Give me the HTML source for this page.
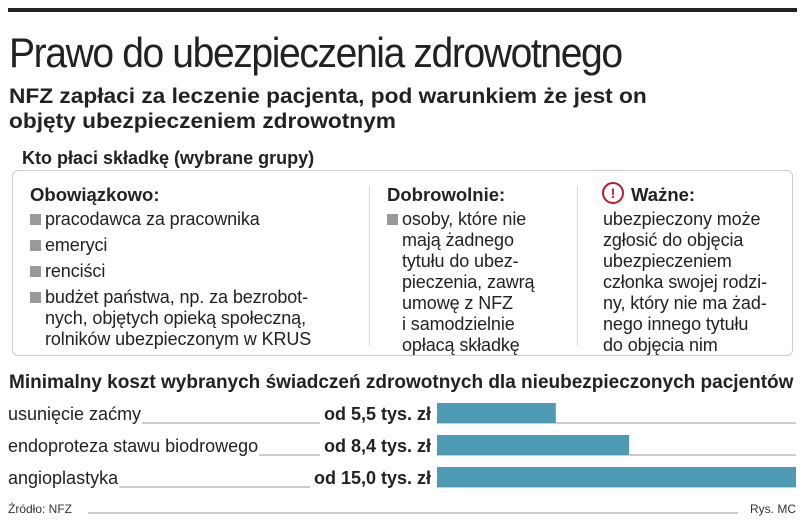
<!DOCTYPE html>
<html><head><meta charset="utf-8">
<style>
*{margin:0;padding:0;box-sizing:border-box}
body{width:805px;height:525px;background:#fff;position:relative;overflow:hidden;font-family:"Liberation Sans",sans-serif;color:#222}
.a{position:absolute;white-space:nowrap}
.n{font-family:"Liberation Sans Narrow","Liberation Sans",sans-serif}
.li{position:absolute;font-size:18px;line-height:21px;white-space:nowrap;letter-spacing:-0.1px}
.sq{display:inline-block;width:11px;height:11px;background:#999;margin-right:4px;vertical-align:0px}
.h{font-size:18.5px;font-weight:bold}
</style></head><body>
<div class="a" style="left:8px;top:8px;width:789px;height:4px;background:#222"></div>
<div class="a n" style="left:9px;top:29px;font-size:42px;letter-spacing:-1.5px;transform:scaleX(0.93);transform-origin:left">Prawo do ubezpieczenia zdrowotnego</div>
<div class="a n" style="left:9px;top:84px;font-size:21px;font-weight:bold;line-height:25px;transform:scaleX(1.08);transform-origin:left">NFZ zapłaci za leczenie pacjenta, pod warunkiem że jest on<br>objęty ubezpieczeniem zdrowotnym</div>
<div class="a" style="left:12px;top:170px;width:781px;height:186px;border:1.5px solid #ccc;border-radius:6px"></div>
<div class="a" style="left:18px;top:148px;font-size:18px;font-weight:bold;background:#fff;padding:0 4px">Kto płaci składkę (wybrane grupy)</div>
<div class="a" style="left:369px;top:186px;width:1px;height:160px;background:#ddd"></div>
<div class="a" style="left:577px;top:186px;width:1px;height:160px;background:#ddd"></div>
<div class="a h" style="left:30px;top:184px">Obowiązkowo:</div>
<div class="li" style="left:30px;top:209px"><span class="sq"></span>pracodawca za pracownika</div>
<div class="li" style="left:30px;top:235px"><span class="sq"></span>emeryci</div>
<div class="li" style="left:30px;top:261px"><span class="sq"></span>renciści</div>
<div class="li" style="left:30px;top:287px"><span class="sq"></span>budżet państwa, np. za bezrobot-<br><span style="padding-left:15px">nych, objętych opieką społeczną,</span><br><span style="padding-left:15px">rolników ubezpieczonym w KRUS</span></div>
<div class="a h" style="left:387px;top:184px">Dobrowolnie:</div>
<div class="li" style="left:387px;top:209px"><span class="sq"></span>osoby, które nie<br><span style="padding-left:15px">mają żadnego</span><br><span style="padding-left:15px">tytułu do ubez-</span><br><span style="padding-left:15px">pieczenia, zawrą</span><br><span style="padding-left:15px">umowę z NFZ</span><br><span style="padding-left:15px">i samodzielnie</span><br><span style="padding-left:15px">opłacą składkę</span></div>
<div class="a" style="left:602px;top:182px;width:22px;height:22px;border:2px solid #c0152f;border-radius:50%;color:#c0152f;font-size:14px;font-weight:bold;text-align:center;line-height:18px">!</div>
<div class="a h" style="left:631px;top:184px">Ważne:</div>
<div class="li" style="left:603px;top:209px">ubezpieczony może<br>zgłosić do objęcia<br>ubezpieczeniem<br>członka swojej rodzi-<br>ny, który nie ma żad-<br>nego innego tytułu<br>do objęcia nim</div>
<div class="a n" style="left:9px;top:372px;font-size:19px;font-weight:bold">Minimalny koszt wybranych świadczeń zdrowotnych dla nieubezpieczonych pacjentów</div>
<svg id="chart" class="a" style="left:0;top:395px" width="805" height="130"></svg>
<script>
const categories=["usunięcie zaćmy","endoproteza stawu biodrowego","angioplastyka"];
const values=[5.5,8.4,15.0];
const valueLabels=["od 5,5 tys. zł","od 8,4 tys. zł","od 15,0 tys. zł"];
const svg=document.getElementById('chart');
const NS='http://www.w3.org/2000/svg';
const x0=437,x1=796,vmin=0.8,vmax=15;
const xs=v=>x0+(x1-x0)*(v-vmin)/(vmax-vmin);
const rowY=i=>8+i*32;
function mk(t,a){const e=document.createElementNS(NS,t);for(const k in a)e.setAttribute(k,a[k]);svg.appendChild(e);return e;}
categories.forEach((c,i)=>{
 const y=rowY(i);
 const ln=mk('line',{x1:8,x2:796,y1:y+20,y2:y+20,stroke:'#999','stroke-width':1});
 
 
 const lbg=mk('rect',{x:8,y:y,width:0,height:22,fill:'#fff'});
 const t=mk('text',{x:8,y:y+17,'font-size':18,'font-family':'"Liberation Sans Narrow","Liberation Sans",sans-serif',fill:'#222'});
 t.textContent=c;
 
 
 const w=t.getComputedTextLength();lbg.setAttribute('width',w+1);
 const vbg=mk('rect',{x:0,y:y,width:0,height:22,fill:'#fff'});
 const v=mk('text',{x:x0-6,y:y+17,'font-size':18,'font-weight':'bold','text-anchor':'end','font-family':'"Liberation Sans Narrow","Liberation Sans",sans-serif',fill:'#222'});
 v.textContent=valueLabels[i];
 
 
 const vw=v.getComputedTextLength();vbg.setAttribute('x',x0-10-vw);vbg.setAttribute('width',vw+10);
 const b=mk('rect',{x:x0,y:y,width:xs(values[i])-x0,height:20,fill:'#4f9bb5'});
 
 
});
const sl=mk('line',{x1:88,x2:738,y1:118,y2:118,stroke:'#999','stroke-width':1});


const s=mk('text',{x:8,y:118,'font-size':12,'font-family':'"Liberation Sans Narrow","Liberation Sans",sans-serif',fill:'#333'});
s.textContent='Źródło: NFZ';


const r=mk('text',{x:796,y:118,'font-size':12,'text-anchor':'end','font-family':'"Liberation Sans Narrow","Liberation Sans",sans-serif',fill:'#333'});
r.textContent='Rys. MC';


</script>
</body></html>
